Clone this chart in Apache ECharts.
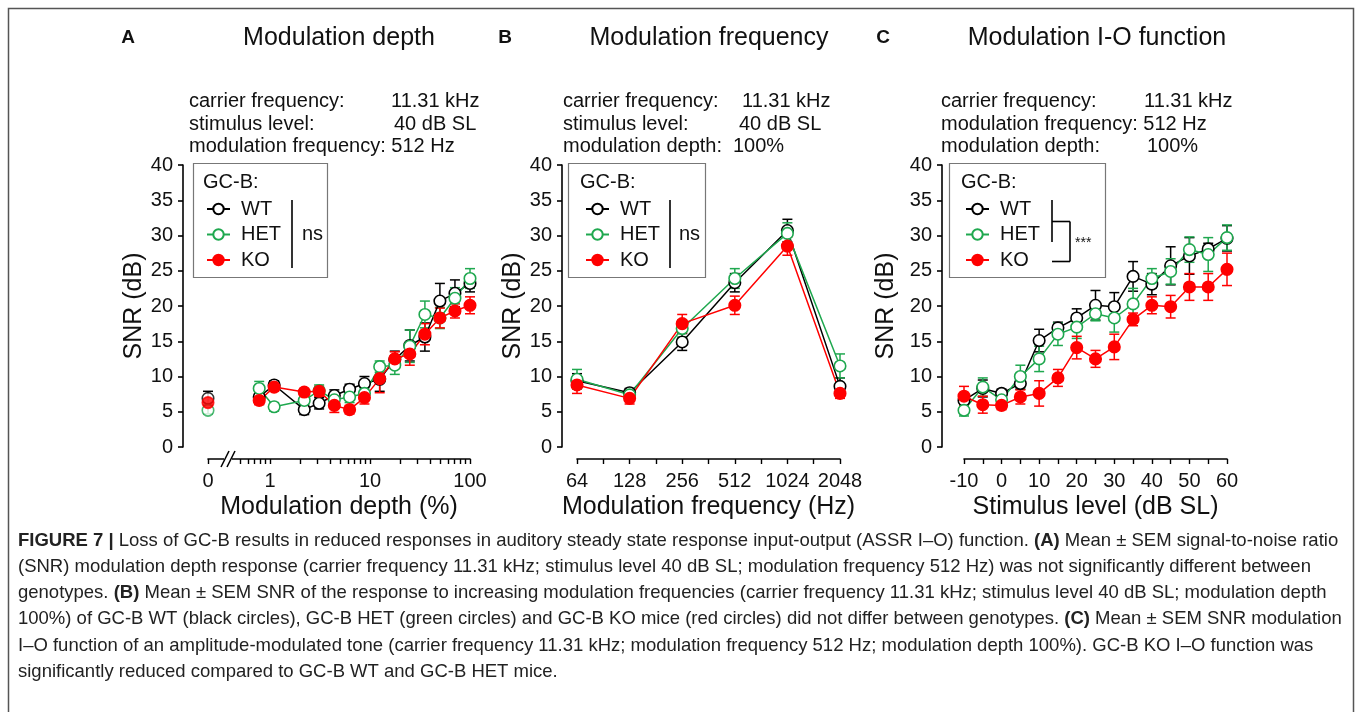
<!DOCTYPE html>
<html>
<head>
<meta charset="utf-8">
<script src="https://cdn.jsdelivr.net/npm/echarts@6/dist/echarts.min.js"></script>
<style>
html,body{margin:0;padding:0;background:#fff;}
#chart{width:1358px;height:712px;}
</style>
</head>
<body>
<div id="chart"></div>
<script>
// ---------------- DATA ----------------
const groupNames = ['WT', 'HET', 'KO'];

// Panel A: modulation depth (%)
const depthPct = [0.78, 1.1, 2.2, 3.1, 4.4, 6.25, 8.8, 12.5, 17.7, 25, 35.4, 50, 70.7, 100];
const depthWT  = [7.1, 8.8, 5.3, 6.2, 7.3, 8.2, 9.0, 9.6, 12.4, 14.4, 15.6, 20.7, 21.8, 23.2];
const depthHET = [8.3, 5.7, 6.6, 8.0, 6.7, 7.1, 7.6, 11.4, 11.6, 14.3, 18.8, 18.3, 21.1, 23.9];
const depthKO  = [6.6, 8.5, 7.8, 7.9, 5.9, 5.3, 7.0, 9.7, 12.5, 13.2, 16.0, 18.3, 19.3, 20.1];
const depthErrWT  = [1.0, 0.6, 0.7, 0.8, 0.8, 0.7, 1.0, 1.7, 1.2, 2.2, 2.0, 2.5, 1.9, 1.2];
const depthErrHET = [1.0, 0.6, 0.8, 0.8, 0.7, 0.8, 0.8, 0.8, 1.3, 2.3, 1.9, 1.5, 1.5, 1.4];
const depthErrKO  = [0.6, 0.6, 0.5, 0.7, 1.0, 0.6, 0.9, 2.0, 1.0, 1.6, 1.5, 1.4, 1.0, 1.2];
// 0 % modulation depth (shown left of the axis break)
const zeroDepthSNR = [6.9, 5.2, 6.3];   // WT, HET, KO
const zeroDepthErr = [1.0, 0.5, 0.6];

// Panel B: modulation frequency (Hz)
const freqHz  = [64, 128, 256, 512, 1024, 2048];
const freqWT  = [9.4, 7.7, 14.9, 23.3, 30.7, 8.6];
const freqHET = [9.6, 7.4, 16.8, 23.9, 30.3, 11.5];
const freqKO  = [8.8, 6.9, 17.5, 20.1, 28.5, 7.6];
const freqErrWT  = [1.0, 0.6, 1.2, 1.3, 1.6, 1.2];
const freqErrHET = [1.4, 0.6, 1.2, 1.4, 1.5, 1.7];
const freqErrKO  = [1.2, 0.8, 1.3, 1.3, 1.3, 0.7];

// Panel C: stimulus level (dB SL)
const levelDB  = [-10, -5, 0, 5, 10, 15, 20, 25, 30, 35, 40, 45, 50, 55, 60];
const levelWT  = [6.6, 8.3, 7.6, 9.0, 15.1, 16.9, 18.3, 20.1, 19.9, 24.2, 23.1, 25.7, 27.1, 28.1, 29.6];
const levelHET = [5.2, 8.5, 6.7, 10.0, 12.5, 16.0, 17.0, 18.9, 18.3, 20.3, 23.9, 24.9, 28.0, 27.3, 29.7];
const levelKO  = [7.2, 6.0, 5.9, 7.1, 7.6, 9.8, 14.1, 12.5, 14.2, 18.1, 20.1, 19.9, 22.7, 22.7, 25.2];
const levelErrWT  = [0.8, 1.2, 0.6, 0.8, 1.6, 0.8, 1.3, 2.1, 2.0, 2.1, 1.5, 2.7, 2.6, 0.8, 1.8];
const levelErrHET = [0.8, 1.3, 0.8, 1.6, 1.8, 1.6, 1.6, 1.0, 2.0, 2.2, 1.4, 1.8, 1.8, 2.4, 1.8];
const levelErrKO  = [1.4, 1.2, 0.6, 1.0, 1.8, 1.2, 1.6, 1.2, 1.8, 0.9, 1.2, 1.6, 1.9, 1.9, 2.3];

// tick labels
const depthTickLabels = ['0', '1', '10', '100'];
const freqTickLabels = ['64', '128', '256', '512', '1024', '2048'];
const levelTickLabels = ['-10', '0', '10', '20', '30', '40', '50', '60'];

// ---------------- STYLE / LAYOUT ----------------
const FONT = '"Liberation Sans", Arial, Helvetica, sans-serif';
const TXT = '#111';
const COLORS = { WT: '#000000', HET: '#1fa84f', KO: '#ff0000' };
const FILL = { WT: '#ffffff', HET: '#ffffff', KO: '#ff0000' };
const X_OFFSET = 12;
const ZERO_POS = -0.62;     // log-axis position used for the 0 % point
const BREAK_POS = -0.42;    // log-axis position of the axis break

const chart = echarts.init(document.getElementById('chart'), null, { renderer: 'canvas' });

const grids = [
  { left: 208, top: 165, width: 262, height: 282 },
  { left: 577, top: 165, width: 263, height: 282 },
  { left: 964, top: 165, width: 263, height: 282 }
];
const yOffsets = [25, 15, 22];
const yNameGaps = [32, 34, 43];

function yAxisFor(i) {
  return {
    gridIndex: i, type: 'value', min: 0, max: 40, interval: 5, offset: yOffsets[i],
    name: 'SNR (dB)', nameLocation: 'middle', nameGap: yNameGaps[i], nameRotate: 90,
    nameTextStyle: { fontFamily: FONT, fontSize: 25, color: TXT },
    axisLine: { show: true, onZero: false, lineStyle: { color: '#000', width: 1.6 } },
    axisTick: { show: true, length: 5, lineStyle: { color: '#000', width: 1.6 } },
    axisLabel: { fontFamily: FONT, fontSize: 20, color: TXT, margin: 10 },
    splitLine: { show: false }
  };
}
function baseX(i, name) {
  return {
    gridIndex: i, type: 'value', offset: X_OFFSET, position: 'bottom',
    name: name, nameLocation: 'middle', nameGap: 36,
    nameTextStyle: { fontFamily: FONT, fontSize: 25, color: TXT },
    axisLine: { show: true, onZero: false, lineStyle: { color: '#000', width: 1.6 } },
    axisTick: { show: true, length: 5, lineStyle: { color: '#000', width: 1.4 } },
    axisLabel: { fontFamily: FONT, fontSize: 20, color: TXT, margin: 12, showMinLabel: true, showMaxLabel: true },
    splitLine: { show: false }
  };
}
const log10 = Math.log10;
const depthMinor = [];
[0.5, 0.6, 0.7, 0.8, 0.9].forEach(v => depthMinor.push(log10(v)));
[2,3,4,5,6,7,8,9].forEach(v => { depthMinor.push(log10(v)); depthMinor.push(log10(v * 10)); });
const depthLabelPos = [ZERO_POS, 0, 1, 2];

const xA = baseX(0, 'Modulation depth (%)');
xA.min = ZERO_POS; xA.max = 2;
xA.axisLabel.customValues = depthLabelPos;
xA.axisLabel.formatter = v => depthTickLabels[depthLabelPos.findIndex(p => Math.abs(p - v) < 1e-6)] || '';
xA.axisTick.customValues = [ZERO_POS, 0, 1, 2].concat(depthMinor);

const freqLog = freqHz.map(f => Math.log2(f));
const xB = baseX(1, 'Modulation frequency (Hz)');
xB.min = freqLog[0]; xB.max = freqLog[freqLog.length - 1];
xB.axisLabel.customValues = freqLog;
xB.axisLabel.formatter = v => freqTickLabels[freqLog.findIndex(p => Math.abs(p - v) < 1e-6)] || '';
const freqTicks = [];
for (let v = freqLog[0]; v <= freqLog[freqLog.length - 1] + 1e-9; v += 0.5) freqTicks.push(v);
xB.axisTick.customValues = freqTicks;

const xC = baseX(2, 'Stimulus level (dB SL)');
xC.min = -10; xC.max = 60;
xC.axisLabel.customValues = levelTickLabels.map(Number);
xC.axisLabel.formatter = v => String(v);
xC.axisTick.customValues = levelDB;

// ---------------- SERIES ----------------
function errorSeries(idx, name, xs, ys, es) {
  const data = xs.map((x, k) => [x, ys[k] - es[k], ys[k] + es[k]]);
  const col = COLORS[name];
  return {
    type: 'custom', name: name + ' SEM', xAxisIndex: idx, yAxisIndex: idx, silent: true,
    encode: { x: 0, y: [1, 2] }, data: data, z: 2,
    renderItem: function (params, api) {
      const lo = api.coord([api.value(0), api.value(1)]);
      const hi = api.coord([api.value(0), api.value(2)]);
      const w = 5;
      const st = { stroke: col, lineWidth: 1.5 };
      return { type: 'group', children: [
        { type: 'line', shape: { x1: lo[0], y1: lo[1], x2: hi[0], y2: hi[1] }, style: st },
        { type: 'line', shape: { x1: hi[0] - w, y1: hi[1], x2: hi[0] + w, y2: hi[1] }, style: st },
        { type: 'line', shape: { x1: lo[0] - w, y1: lo[1], x2: lo[0] + w, y2: lo[1] }, style: st }
      ]};
    }
  };
}
function lineSeries(idx, name, xs, ys) {
  return {
    type: 'line', name: name, xAxisIndex: idx, yAxisIndex: idx, z: 3,
    data: xs.map((x, k) => [x, ys[k]]),
    symbol: 'circle', symbolSize: 11.5, showSymbol: true,
    lineStyle: { color: COLORS[name], width: 1.5 },
    itemStyle: { color: FILL[name], borderColor: COLORS[name], borderWidth: 1.6 },
    emphasis: { disabled: true }, animation: false
  };
}
function zeroSeries(k) {
  const name = groupNames[k];
  return {
    type: 'scatter', name: name, xAxisIndex: 0, yAxisIndex: 0, z: 3,
    data: [[ZERO_POS, zeroDepthSNR[k]]], symbol: 'circle', symbolSize: 11.5,
    itemStyle: { color: FILL[name], borderColor: COLORS[name], borderWidth: 1.6 },
    emphasis: { disabled: true }, animation: false
  };
}

const depthLog = depthPct.map(v => log10(v));
const panels = [
  { xs: depthLog, ys: [depthWT, depthHET, depthKO], es: [depthErrWT, depthErrHET, depthErrKO] },
  { xs: freqLog, ys: [freqWT, freqHET, freqKO], es: [freqErrWT, freqErrHET, freqErrKO] },
  { xs: levelDB, ys: [levelWT, levelHET, levelKO], es: [levelErrWT, levelErrHET, levelErrKO] }
];
const series = [];
panels.forEach((p, i) => {
  groupNames.forEach((g, k) => {
    series.push(errorSeries(i, g, p.xs, p.ys[k], p.es[k]));
    if (i === 0) series.push(errorSeries(0, g, [ZERO_POS], [zeroDepthSNR[k]], [zeroDepthErr[k]]));
    series.push(lineSeries(i, g, p.xs, p.ys[k]));
    if (i === 0) series.push(zeroSeries(k));
  });
});
// axis break marker on panel A
series.push({
  type: 'custom', xAxisIndex: 0, yAxisIndex: 0, silent: true, z: 5, clip: false,
  data: [[BREAK_POS, 0]],
  renderItem: function (params, api) {
    const c = api.coord([api.value(0), 0]);
    const x = c[0], y = c[1] + X_OFFSET;
    const st = { stroke: '#000', lineWidth: 1.5 };
    return { type: 'group', children: [
      { type: 'rect', shape: { x: x - 4, y: y - 3, width: 8, height: 6 }, style: { fill: '#fff' } },
      { type: 'line', shape: { x1: x - 7, y1: y + 8, x2: x + 1, y2: y - 8 }, style: st },
      { type: 'line', shape: { x1: x - 1, y1: y + 8, x2: x + 7, y2: y - 8 }, style: st }
    ]};
  }
});

// ---------------- LEGENDS ----------------
const legendLefts = [201, 580, 960];
const legends = legendLefts.map(l => ({
  left: l, top: 194, orient: 'vertical', itemWidth: 23, itemHeight: 13, itemGap: 5.5,
  selectedMode: false, data: groupNames,
  formatter: n => '{t|' + n + '}',
  textStyle: { fontFamily: FONT, fontSize: 20, color: TXT,
    rich: { t: { fontFamily: FONT, fontSize: 20, color: TXT, padding: [0, 0, 0, 6], lineHeight: 14 } } }
}));

// ---------------- GRAPHIC (titles, notes, legend frames, caption) ----------------
const g = [];
function txt(x, y, text, opt) {
  g.push(Object.assign({ type: 'text', x: x, y: y, silent: true,
    style: Object.assign({ text: text, fontFamily: FONT, fontSize: 20, fill: TXT, verticalAlign: 'middle' }, opt || {}) }));
}
function ln(x1, y1, x2, y2, w, c) {
  g.push({ type: 'line', silent: true, shape: { x1, y1, x2, y2 }, style: { stroke: c || '#000', lineWidth: w || 1.6 } });
}
// outer frame
g.push({ type: 'rect', silent: true, shape: { x: 8.5, y: 8.5, width: 1345, height: 730 }, style: { fill: 'none', stroke: '#555', lineWidth: 1.5 } });

// panel letters and titles
txt(128, 38, 'A', { fontWeight: 'bold', fontSize: 19, align: 'center' });
txt(505, 38, 'B', { fontWeight: 'bold', fontSize: 19, align: 'center' });
txt(883, 38, 'C', { fontWeight: 'bold', fontSize: 19, align: 'center' });
txt(339, 38, 'Modulation depth', { fontSize: 25, align: 'center' });
txt(709, 38, 'Modulation frequency', { fontSize: 25, align: 'center' });
txt(1097, 38, 'Modulation I-O function', { fontSize: 25, align: 'center' });

// stimulus notes
const rowY = [101, 124, 146];
txt(189, rowY[0], 'carrier frequency:'); txt(391, rowY[0], '11.31 kHz');
txt(189, rowY[1], 'stimulus level:'); txt(394, rowY[1], '40 dB SL');
txt(189, rowY[2], 'modulation frequency: 512 Hz');
txt(563, rowY[0], 'carrier frequency:'); txt(742, rowY[0], '11.31 kHz');
txt(563, rowY[1], 'stimulus level:'); txt(739, rowY[1], '40 dB SL');
txt(563, rowY[2], 'modulation depth:'); txt(733, rowY[2], '100%');
txt(941, rowY[0], 'carrier frequency:'); txt(1144, rowY[0], '11.31 kHz');
txt(941, rowY[1], 'modulation frequency: 512 Hz');
txt(941, rowY[2], 'modulation depth:'); txt(1147, rowY[2], '100%');

// legend frames
const boxes = [[193, 327], [568, 705], [949, 1105]];
boxes.forEach(b => g.push({ type: 'rect', silent: true, z: -1,
  shape: { x: b[0] + 0.5, y: 163.5, width: b[1] - b[0], height: 114 },
  style: { fill: '#fff', stroke: '#777', lineWidth: 1.2 } }));
txt(203, 182, 'GC-B:'); txt(580, 182, 'GC-B:'); txt(961, 182, 'GC-B:');
// ns markers
ln(292, 200, 292, 268); txt(302, 234, 'ns');
ln(670, 200, 670, 268); txt(679, 234, 'ns');
// significance bracket (C)
ln(1052, 200, 1052, 242); ln(1052, 221.5, 1070, 221.5); ln(1070, 221.5, 1070, 261.5); ln(1052, 261.5, 1070, 261.5);
txt(1075, 243, '***', { fontSize: 14 });

// caption
const CAP = 18.5;
const capRich = {
  b: { fontFamily: FONT, fontSize: CAP, fontWeight: 'bold', fill: '#222' },
  n: { fontFamily: FONT, fontSize: CAP, fill: '#222' }
};
const capLines = [
  '{b|FIGURE 7 |}{n| Loss of GC-B results in reduced responses in auditory steady state response input-output (ASSR I–O) function. }{b|(A)}{n| Mean ± SEM signal-to-noise ratio}',
  '{n|(SNR) modulation depth response (carrier frequency 11.31 kHz; stimulus level 40 dB SL; modulation frequency 512 Hz) was not significantly different between}',
  '{n|genotypes. }{b|(B)}{n| Mean ± SEM SNR of the response to increasing modulation frequencies (carrier frequency 11.31 kHz; stimulus level 40 dB SL; modulation depth}',
  '{n|100%) of GC-B WT (black circles), GC-B HET (green circles) and GC-B KO mice (red circles) did not differ between genotypes. }{b|(C)}{n| Mean ± SEM SNR modulation}',
  '{n|I–O function of an amplitude-modulated tone (carrier frequency 11.31 kHz; modulation frequency 512 Hz; modulation depth 100%). GC-B KO I–O function was}',
  '{n|significantly reduced compared to GC-B WT and GC-B HET mice.}'
];
const capY = [541, 567, 593, 619, 646, 672];
capLines.forEach((t, i) => txt(18, capY[i], t, { rich: capRich, fontSize: CAP, fill: '#222' }));

chart.setOption({
  animation: false,
  backgroundColor: '#fff',
  grid: grids,
  xAxis: [xA, xB, xC],
  yAxis: [0, 1, 2].map(yAxisFor),
  legend: legends,
  series: series,
  graphic: g
});
</script>
</body>
</html>
